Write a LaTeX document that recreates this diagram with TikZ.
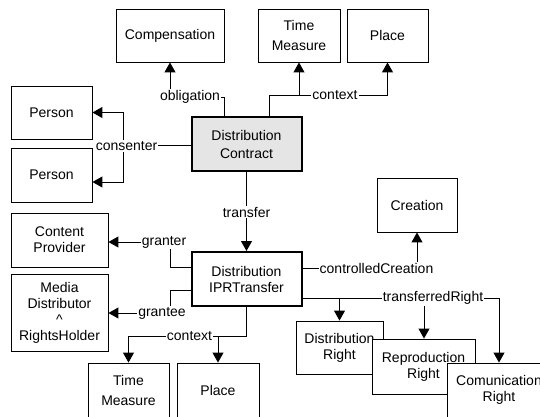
\documentclass[tikz,border=0pt]{standalone}
\usepackage{fontspec}
\setmainfont{Liberation Sans}
\usetikzlibrary{arrows.meta}
\begin{document}
\begin{tikzpicture}[x=1pt,y=-1pt,
  every node/.style={font=\fontsize{14}{16}\selectfont},
  box/.style={draw=black,line width=0.9pt,fill=white,inner sep=0pt,align=center},
  mainbox/.style={box,line width=2pt},
  conn/.style={draw=black,line width=1pt},
  arr/.style={conn,-{Triangle[length=10pt,width=11pt]}},
  lbl/.style={fill=white,inner sep=1pt}]
\useasboundingbox (0,0) rectangle (540,416);
\clip (0,0) rectangle (540,416);
% boxes
\node[box,minimum width=108pt,minimum height=53pt] (comp) at (170,35.5) {Compensation};
\node[box,minimum width=82pt,minimum height=53pt,font=\fontsize{14}{20}\selectfont] (tm1) at (299,35.5) {Time\\Measure};
\node[box,minimum width=81pt,minimum height=53pt] (place1) at (387.5,35.5) {Place};
\node[box,minimum width=81pt,minimum height=53pt] (p1) at (51.5,112.5) {Person};
\node[box,minimum width=81pt,minimum height=54pt] (p2) at (51.5,175) {Person};
\node[mainbox,fill=gray!20,minimum width=110pt,minimum height=54pt,font=\fontsize{14}{18}\selectfont] (dc) at (246.5,144) {Distribution\\Contract};
\node[box,minimum width=80pt,minimum height=54pt] (creation) at (417,205) {Creation};
\node[box,minimum width=97pt,minimum height=54pt] (cp) at (59.5,240) {Content\\Provider};
\node[box,minimum width=97pt,minimum height=77pt] (md) at (59.5,312.5) {Media\\Distributor\\\textasciicircum\\RightsHolder};
\node[mainbox,minimum width=110pt,minimum height=54pt] (ipr) at (246.5,279) {Distribution\\IPRTransfer};
\node[box,minimum width=81pt,minimum height=54pt,font=\fontsize{14}{20}\selectfont] (tm2) at (128.5,390) {Time\\Measure};
\node[box,minimum width=82pt,minimum height=54pt] (place2) at (218,390) {Place};
\node[box,minimum width=87pt,minimum height=53pt] (dr) at (339.5,347.5) {Distribution\\Right};
\node[box,minimum width=103pt,minimum height=55pt] (rr) at (423.5,366.5) {Reproduction\\Right};
\node[box,minimum width=104pt,minimum height=54pt] (cr) at (499,390) {Comunication\\Right};
% obligation
\draw[arr] (dc.north -| 224,0) |- (170,97) -- (comp.south -| 170,0);
\node[lbl] (lobl) at (190,97) {obligation};
% context top
\draw[arr] (dc.north -| 269,0) |- (299,95) -- (tm1.south);
\draw[arr] (299,95) -| (place1.south);
\node[lbl] (lctx1) at (335,95) {context};
% consenter
\draw[conn] (dc.west |- 0,145) -- (123,145);
\draw[arr] (123,145) |- (p1.east);
\draw[arr] (123,145) |- (p2.east |- 0,182);
\node[lbl] (lcons) at (126.5,146) {consenter};
% transfer
\draw[arr] (dc.south) -- (ipr.north);
\node[lbl] (ltr) at (246.5,212) {transfer};
% granter / grantee
\draw[arr] (ipr.west |- 0,267) -| (170,242) -- (cp.east |- 0,242);
\node[lbl] (lgr) at (164,242) {granter};
\draw[arr] (ipr.west |- 0,290) -| (170,313) -- (md.east |- 0,313);
\node[lbl] (lge) at (162,313) {grantee};
% context bottom
\draw[arr] (ipr.south) |- (218,336) -- (place2.north);
\draw[arr] (218,336) -| (tm2.north);
\node[lbl] (lctx2) at (189.5,336) {context};
% controlledCreation
\draw[arr] (ipr.east |- 0,268) -| (creation.south);
\node[lbl] (lcc) at (376.5,268) {controlledCreation};
% transferredRight
\draw[arr] (ipr.east |- 0,298) -| (dr.north);
\draw[arr] (339.5,298) -| (cr.north);
\draw[arr] (424,298) -- (rr.north -| 424,0);
\node[lbl] (ltrr) at (433,298) {transferredRight};
\end{tikzpicture}
\end{document}
